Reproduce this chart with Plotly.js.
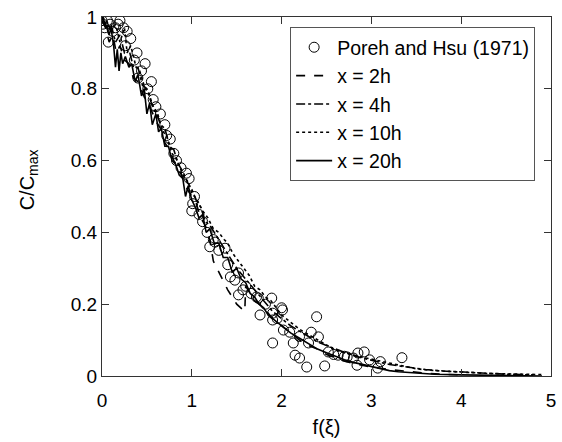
<!DOCTYPE html>
<html><head><meta charset="utf-8">
<script src="https://cdn.plot.ly/plotly-3.0.1.min.js"></script>
<style>html,body{margin:0;padding:0;background:#fff}#chart{width:562px;height:442px}</style>
</head><body><div id="chart"></div>
<script>
// Poreh and Hsu (1971) measurements
const porehF = [0.0,0.01,0.03,0.06,0.09,0.12,0.15,0.18,0.2,0.24,0.26,0.28,0.07,0.32,0.36,0.39,0.4,0.44,0.48,0.51,0.55,0.57,0.6,0.65,0.7,0.72,0.76,0.8,0.83,0.88,0.94,0.97,1.0,1.01,1.03,1.08,1.12,1.17,1.2,1.24,1.26,1.3,1.37,1.4,1.43,1.48,1.52,1.52,1.57,1.6,1.66,1.72,1.74,1.76,1.82,1.89,1.9,1.9,1.9,1.95,2.0,2.01,2.02,2.09,2.13,2.15,2.2,2.2,2.28,2.3,2.33,2.39,2.41,2.48,2.52,2.58,2.63,2.7,2.73,2.8,2.84,2.85,2.92,2.98,3.07,3.1,3.34];
const porehC = [0.99,0.98,0.97,0.99,0.98,0.96,0.97,0.98,0.99,0.97,0.92,0.96,0.93,0.94,0.88,0.90,0.83,0.85,0.87,0.80,0.82,0.77,0.75,0.73,0.70,0.67,0.66,0.62,0.60,0.58,0.565,0.55,0.46,0.48,0.50,0.45,0.43,0.40,0.36,0.38,0.373,0.35,0.356,0.31,0.276,0.267,0.287,0.226,0.24,0.25,0.23,0.22,0.217,0.17,0.20,0.217,0.175,0.092,0.156,0.16,0.19,0.184,0.128,0.122,0.092,0.058,0.05,0.11,0.025,0.092,0.122,0.165,0.109,0.028,0.067,0.06,0.058,0.055,0.053,0.05,0.03,0.064,0.067,0.045,0.022,0.04,0.051];

// x = 2h
const x2F = [0.0,0.04,0.08,0.12,0.16,0.2,0.25,0.3,0.35,0.4,0.45,0.5,0.55,0.6,0.65,0.7,0.75,0.8,0.85,0.9,0.95,1.0,1.05,1.1,1.15,1.2,1.24,1.3,1.4,1.5,1.59,1.6,1.7,1.8,1.9,2.0,2.1,2.2,2.3,2.4,2.5,2.6,2.7,2.8,2.9,3.0,3.2,3.4,3.6,3.8,4.0];
const x2C = [0.99,0.97,0.93,0.95,0.9,0.92,0.88,0.87,0.83,0.82,0.79,0.76,0.74,0.71,0.69,0.65,0.63,0.6,0.58,0.55,0.52,0.5,0.48,0.44,0.42,0.38,0.32,0.29,0.24,0.2,0.18,0.25,0.21,0.19,0.16,0.14,0.12,0.1,0.085,0.075,0.06,0.05,0.042,0.035,0.03,0.025,0.018,0.012,0.008,0.005,0.003];

// x = 4h
const x4F = [0.0,0.05,0.1,0.15,0.2,0.25,0.3,0.35,0.4,0.45,0.5,0.55,0.6,0.65,0.7,0.75,0.8,0.85,0.9,0.95,1.0,1.05,1.1,1.15,1.2,1.3,1.4,1.5,1.6,1.7,1.8,1.9,2.0,2.1,2.2,2.3,2.4,2.5,2.6,2.7,2.8,2.9,3.0,3.1,3.2,3.4,3.6,3.8,4.0,4.2,4.5,4.8];
const x4C = [1.0,0.97,0.98,0.93,0.95,0.9,0.91,0.86,0.86,0.81,0.8,0.76,0.74,0.7,0.69,0.64,0.63,0.59,0.57,0.54,0.52,0.49,0.47,0.43,0.42,0.38,0.34,0.3,0.27,0.24,0.21,0.18,0.16,0.14,0.125,0.11,0.095,0.085,0.075,0.065,0.057,0.05,0.043,0.038,0.032,0.024,0.018,0.014,0.011,0.008,0.005,0.003];

// x = 10h
const x10F = [0.0,0.05,0.1,0.15,0.2,0.25,0.28,0.32,0.38,0.42,0.48,0.52,0.58,0.62,0.68,0.72,0.78,0.84,0.9,0.96,1.0,1.06,1.12,1.18,1.24,1.3,1.36,1.4,1.46,1.52,1.58,1.64,1.7,1.76,1.82,1.88,1.94,2.0,2.1,2.2,2.3,2.4,2.5,2.6,2.7,2.8,2.9,3.0,3.1,3.2,3.3,3.4,3.5,3.7,3.9,4.1,4.3,4.5,4.7,4.9];
const x10C = [1.0,0.99,0.96,0.98,0.93,0.97,0.9,0.92,0.86,0.85,0.8,0.79,0.74,0.73,0.68,0.67,0.62,0.6,0.56,0.54,0.51,0.49,0.46,0.44,0.41,0.4,0.38,0.37,0.34,0.32,0.3,0.28,0.25,0.24,0.22,0.21,0.19,0.17,0.15,0.13,0.115,0.1,0.085,0.072,0.065,0.058,0.052,0.047,0.042,0.036,0.03,0.025,0.02,0.015,0.012,0.009,0.007,0.006,0.005,0.004];

// x = 20h
const x20F = [0.0,0.04,0.08,0.1,0.13,0.15,0.17,0.19,0.21,0.23,0.26,0.3,0.33,0.37,0.4,0.44,0.47,0.5,0.53,0.56,0.6,0.63,0.66,0.7,0.74,0.78,0.82,0.86,0.9,0.93,0.96,1.0,1.04,1.08,1.12,1.16,1.2,1.25,1.3,1.35,1.4,1.45,1.5,1.55,1.6,1.65,1.7,1.75,1.8,1.85,1.9,1.95,2.0,2.1,2.2,2.3,2.4,2.5,2.6,2.7,2.8,2.9,3.0,3.1,3.2,3.3,3.5,3.7,4.0,4.3,4.6,4.9];
const x20C = [1.0,0.98,0.95,0.97,0.92,0.86,0.91,0.85,0.9,0.87,0.89,0.86,0.87,0.82,0.84,0.78,0.8,0.73,0.76,0.7,0.73,0.68,0.69,0.64,0.64,0.6,0.59,0.56,0.55,0.5,0.53,0.49,0.47,0.44,0.45,0.4,0.41,0.37,0.37,0.33,0.33,0.29,0.3,0.27,0.26,0.23,0.22,0.2,0.19,0.17,0.16,0.15,0.14,0.12,0.105,0.09,0.075,0.065,0.055,0.045,0.038,0.032,0.026,0.02,0.015,0.012,0.008,0.005,0.003,0.002,0.001,0.0];

const FONT = 'Liberation Sans, Arial, sans-serif';
const lineStyle = (d) => ({color:'#000', width:1.6, dash:d});

const traces = [
  {x: porehF, y: porehC, name: 'Poreh and Hsu (1971)', mode: 'markers', type: 'scatter',
   marker: {symbol: 'circle-open', size: 10, color: '#000', line: {width: 1, color: '#000'}}},
  {x: x2F, y: x2C, name: 'x = 2h', mode: 'lines', type: 'scatter', line: lineStyle('dash')},
  {x: x4F, y: x4C, name: 'x = 4h', mode: 'lines', type: 'scatter', line: lineStyle('dashdot')},
  {x: x10F, y: x10C, name: 'x = 10h', mode: 'lines', type: 'scatter', line: lineStyle('dot')},
  {x: x20F, y: x20C, name: 'x = 20h', mode: 'lines', type: 'scatter', line: lineStyle('solid')}
];

const axisCommon = {
  showline: true, linecolor: '#333', linewidth: 1, mirror: 'ticks',
  ticks: 'inside', ticklen: 7, tickcolor: '#333', tickwidth: 1,
  showgrid: false, zeroline: false,
  tickfont: {family: FONT, size: 19, color: '#000'}
};

const layout = {
  width: 562, height: 442,
  margin: {l: 102, r: 11, t: 17, b: 66},
  paper_bgcolor: '#fff', plot_bgcolor: '#fff',
  font: {family: FONT, color: '#000'},
  showlegend: true,
  xaxis: Object.assign({}, axisCommon, {
    range: [0, 5], dtick: 1, tick0: 0, ticklabelstandoff: 7,
    title: {text: 'f(ξ)', font: {family: FONT, size: 20}, standoff: 10}
  }),
  yaxis: Object.assign({}, axisCommon, {
    range: [0, 1], dtick: 0.2, tick0: 0
  }),
  annotations: [{
    text: 'C/C<sub>max</sub>', textangle: -90, showarrow: false,
    xref: 'paper', yref: 'paper', x: 0, y: 0.545, xanchor: 'center', yanchor: 'middle',
    xshift: -74, font: {family: FONT, size: 20, color: '#000'}
  }],
  legend: {
    x: 0.419, y: 0.972, xanchor: 'left', yanchor: 'top',
    bgcolor: '#fff', bordercolor: '#555', borderwidth: 1,
    font: {family: FONT, size: 19.5, color: '#000'},
    tracegroupgap: 0, itemwidth: 36
  }
};

Plotly.newPlot('chart', traces, layout, {staticPlot: true});
</script></body></html>
